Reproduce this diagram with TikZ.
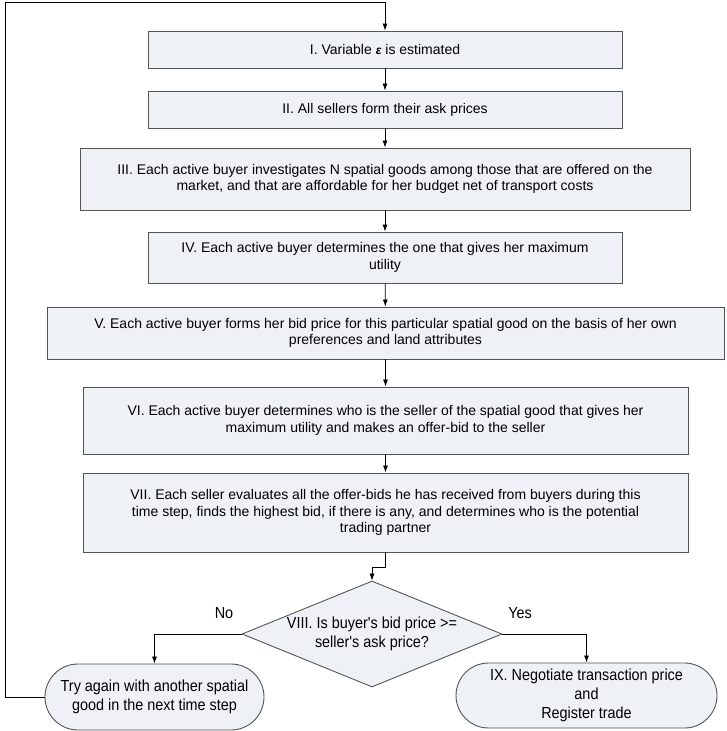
\documentclass[tikz,border=0pt]{standalone}
\usepackage{fontspec}
\setmainfont{Liberation Sans}
\newfontfamily\narrowfont{Liberation Sans}[FakeStretch=0.9]
\usetikzlibrary{shapes.geometric,shapes.misc,arrows.meta}
\definecolor{boxfill}{RGB}{238,241,246}
\definecolor{boxline}{RGB}{85,85,85}
\tikzset{
    stepbox/.style={draw=boxline, fill=boxfill, line width=0.9pt, align=center,
        inner sep=0pt, font=\fontsize{14}{16.5}\selectfont},
    decision/.style={diamond, draw=boxline, fill=boxfill, line width=0.9pt, align=center,
        aspect=2.45, inner xsep=-30pt, inner ysep=-10pt,
        font=\narrowfont\fontsize{16}{19}\selectfont},
    endbox/.style={rounded rectangle, draw=boxline, fill=boxfill, line width=0.9pt,
        align=center, inner sep=0pt, font=\narrowfont\fontsize{16}{19}\selectfont},
    answer/.style={font=\narrowfont\fontsize{16}{19}\selectfont},
    conn/.style={-{Latex[length=7pt,width=5pt]}, line width=0.8pt}
}
\begin{document}
\begin{tikzpicture}[x=1pt,y=-1pt]
    \useasboundingbox (0,0) rectangle (727,731);

    \node[stepbox, minimum width=474pt, minimum height=37pt] (s1) at (385,49.5)
        {I. Variable {\bfseries\itshape\large ε} is estimated};
    \node[stepbox, minimum width=474pt, minimum height=37pt] (s2) at (385,109.5)
        {II. All sellers form their ask prices};
    \node[stepbox, minimum width=610pt, minimum height=62pt] (s3) at (385,179)
        {III. Each active buyer investigates N spatial goods among those that are offered on the\\
         market, and that are affordable for her budget net of transport costs};
    \node[stepbox, minimum width=474pt, minimum height=51pt] (s4) at (385,257.5)
        {IV. Each active buyer determines the one that gives her maximum\\utility};
    \node[stepbox, minimum width=677pt, minimum height=52pt] (s5) at (385.5,333)
        {V. Each active buyer forms her bid price for this particular spatial good on the basis of her own\\
         preferences and land attributes};
    \node[stepbox, minimum width=605pt, minimum height=67pt] (s6) at (385.5,420.5)
        {VI. Each active buyer determines who is the seller of the spatial good that gives her\\
         maximum utility and makes an offer-bid to the seller};
    \node[stepbox, minimum width=605pt, minimum height=79pt] (s7) at (385.5,512.5)
        {VII. Each seller evaluates all the offer-bids he has received from buyers during this\\
         time step, finds the highest bid, if there is any, and determines who is the potential\\
         trading partner};

    \node[decision, minimum width=260pt, minimum height=106pt] (d8) at (372,634)
        {VIII. Is buyer's bid price >=\\seller's ask price?};

    \node[endbox, minimum width=219pt, minimum height=66pt] (tno) at (154.5,697)
        {Try again with another spatial\\good in the next time step};
    \node[endbox, minimum width=261pt, minimum height=65pt] (tyes) at (586.5,695.5)
        {IX. Negotiate transaction price\\and\\Register trade};

    \node[answer] (lno) at (224,613) {No};
    \node[answer] (lyes) at (520,613) {Yes};

    \coordinate (loop) at (5,2);

    \draw[conn] (s1) -- (s2);
    \draw[conn] (s2) -- (s3);
    \draw[conn] (s3) -- (s4);
    \draw[conn] (s4) -- (s5);
    \draw[conn] (s5) -- (s6);
    \draw[conn] (s6) -- (s7);
    \draw[conn] (s7.south) -- ++(0,15) -| (d8.north);
    \draw[conn] (d8.west) -| (tno.north);
    \draw[conn] (d8.east) -| (tyes.north);
    \draw[conn] (tno.west) -| (loop) -| (s1.north);
\end{tikzpicture}
\end{document}
